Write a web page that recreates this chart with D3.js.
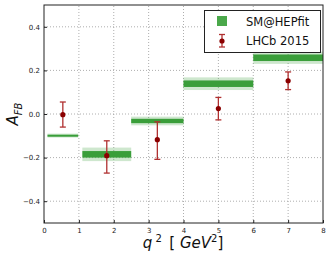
<!DOCTYPE html>
<html>
<head>
<meta charset="utf-8">
<script src="https://cdn.jsdelivr.net/npm/d3@7"></script>
<style>
  body { margin: 0; background: #fff; }
  text { font-family: "DejaVu Sans", sans-serif; }
</style>
</head>
<body>
<div id="chart"></div>
<script>
const width = 332;
const height = 260;
const margin = { top: 5, right: 9, bottom: 37, left: 44 };

// SM@HEPfit bins: low edge, high edge, central value, 1 sigma, 2 sigma
const smLow = [0.1, 1.1, 2.5, 4.0, 6.0];
const smHigh = [0.98, 2.5, 4.0, 6.0, 8.0];
const smValue = [-0.099, -0.185, -0.032, 0.139, 0.258];
const smErr1 = [0.004, 0.015, 0.01, 0.015, 0.015];
const smErr2 = [0.009, 0.031, 0.02, 0.029, 0.028];

// LHCb 2015 points
const lhcbX = [0.54, 1.8, 3.25, 5.0, 7.0];
const lhcbY = [-0.003, -0.191, -0.118, 0.025, 0.152];
const lhcbUp = [0.058, 0.068, 0.082, 0.051, 0.041];
const lhcbDown = [0.057, 0.080, 0.090, 0.052, 0.040];

const xTicks = [0, 1, 2, 3, 4, 5, 6, 7, 8];
const yTicks = [-0.4, -0.2, 0.0, 0.2, 0.4];

const svg = d3.select("#chart").append("svg")
  .attr("width", width)
  .attr("height", height);

const x = d3.scaleLinear().domain([0, 8]).range([margin.left, width - margin.right]);
const y = d3.scaleLinear().domain([-0.5, 0.5]).range([height - margin.bottom, margin.top]);

// dotted grid
svg.append("g").selectAll("line.gx")
  .data(xTicks.slice(1, -1))
  .join("line")
    .attr("x1", d => x(d)).attr("x2", d => x(d))
    .attr("y1", y(-0.5)).attr("y2", y(0.5))
    .attr("stroke", "#999").attr("stroke-width", 0.8)
    .attr("stroke-dasharray", "1,2");

svg.append("g").selectAll("line.gy")
  .data(yTicks)
  .join("line")
    .attr("x1", x(0)).attr("x2", x(8))
    .attr("y1", d => y(d)).attr("y2", d => y(d))
    .attr("stroke", "#999").attr("stroke-width", 0.8)
    .attr("stroke-dasharray", "1,2");

// SM bands
const sm = smLow.map((d, i) => ({ lo: d, hi: smHigh[i], v: smValue[i], e1: smErr1[i], e2: smErr2[i] }));

svg.append("g").selectAll("rect")
  .data(sm)
  .join("rect")
    .attr("x", d => x(d.lo))
    .attr("width", d => x(d.hi) - x(d.lo))
    .attr("y", d => y(d.v + d.e2))
    .attr("height", d => y(d.v - d.e2) - y(d.v + d.e2))
    .attr("fill", "#3a9e3a").attr("fill-opacity", 0.25);

svg.append("g").selectAll("rect")
  .data(sm)
  .join("rect")
    .attr("x", d => x(d.lo))
    .attr("width", d => x(d.hi) - x(d.lo))
    .attr("y", d => y(d.v + d.e1))
    .attr("height", d => Math.max(2, y(d.v - d.e1) - y(d.v + d.e1)))
    .attr("fill", "#3a9e3a");

// LHCb points with error bars
const pts = lhcbX.map((d, i) => ({ x: d, y: lhcbY[i], up: lhcbUp[i], dn: lhcbDown[i] }));
const errColor = "#b03030";
const pg = svg.append("g").selectAll("g")
  .data(pts)
  .join("g");

pg.append("line")
  .attr("x1", d => x(d.x)).attr("x2", d => x(d.x))
  .attr("y1", d => y(d.y + d.up)).attr("y2", d => y(d.y - d.dn))
  .attr("stroke", errColor).attr("stroke-width", 1.3);
pg.append("line")
  .attr("x1", d => x(d.x) - 3).attr("x2", d => x(d.x) + 3)
  .attr("y1", d => y(d.y + d.up)).attr("y2", d => y(d.y + d.up))
  .attr("stroke", errColor).attr("stroke-width", 1.3);
pg.append("line")
  .attr("x1", d => x(d.x) - 3).attr("x2", d => x(d.x) + 3)
  .attr("y1", d => y(d.y - d.dn)).attr("y2", d => y(d.y - d.dn))
  .attr("stroke", errColor).attr("stroke-width", 1.3);
pg.append("circle")
  .attr("cx", d => x(d.x)).attr("cy", d => y(d.y))
  .attr("r", 2.6)
  .attr("fill", "#8b0000");

// axes with inward ticks
const xAxis = svg.append("g")
  .attr("transform", `translate(0,${y(-0.5)})`)
  .call(d3.axisBottom(x).tickValues(xTicks).tickSizeInner(-3).tickSizeOuter(0).tickPadding(5).tickFormat(d3.format("d")));
const yAxis = svg.append("g")
  .attr("transform", `translate(${x(0)},0)`)
  .call(d3.axisLeft(y).tickValues(yTicks).tickSizeInner(-3).tickSizeOuter(0).tickPadding(4).tickFormat(d => d3.format(".1f")(d).replace("-", "\u2212")));
[xAxis, yAxis].forEach(a => {
  a.select(".domain").remove();
  a.selectAll("text").attr("font-size", 7).attr("fill", "#222").attr("font-family", "DejaVu Sans, sans-serif");
  a.selectAll("line").attr("stroke", "#222");
});

// frame
svg.append("rect")
  .attr("x", x(0)).attr("y", y(0.5))
  .attr("width", x(8) - x(0)).attr("height", y(-0.5) - y(0.5))
  .attr("fill", "none").attr("stroke", "#222").attr("stroke-width", 1);

// legend
const lg = svg.append("g");
lg.append("rect")
  .attr("x", 204.5).attr("y", 10.5)
  .attr("width", 116).attr("height", 42)
  .attr("fill", "#fff").attr("stroke", "#222").attr("stroke-width", 1);
lg.append("rect")
  .attr("x", 217).attr("y", 16).attr("width", 10).attr("height", 10)
  .attr("fill", "#4aa84a");
lg.append("text")
  .attr("x", 246).attr("y", 25.5)
  .attr("font-size", 11.5).attr("fill", "#111")
  .text("SM@HEPfit");
lg.append("line")
  .attr("x1", 222).attr("x2", 222).attr("y1", 34.5).attr("y2", 47)
  .attr("stroke", errColor).attr("stroke-width", 1.3);
lg.append("line")
  .attr("x1", 219).attr("x2", 225).attr("y1", 34.5).attr("y2", 34.5)
  .attr("stroke", errColor).attr("stroke-width", 1.3);
lg.append("line")
  .attr("x1", 219).attr("x2", 225).attr("y1", 47).attr("y2", 47)
  .attr("stroke", errColor).attr("stroke-width", 1.3);
lg.append("circle")
  .attr("cx", 222).attr("cy", 41).attr("r", 2.6).attr("fill", "#8b0000");
lg.append("text")
  .attr("x", 246).attr("y", 45)
  .attr("font-size", 11.5).attr("fill", "#111")
  .text("LHCb 2015");

// axis titles
const yt = svg.append("text")
  .attr("transform", `translate(18,${y(0)}) rotate(-90)`)
  .attr("text-anchor", "middle")
  .attr("font-family", "Liberation Serif, serif")
  .attr("font-style", "italic")
  .attr("font-size", 15)
  .attr("fill", "#111");
yt.append("tspan").text("A");
yt.append("tspan").attr("font-size", 10).attr("dy", 4).text("FB");

const xt = svg.append("text")
  .attr("x", 183).attr("y", 248)
  .attr("text-anchor", "middle")
  .attr("font-family", "Liberation Serif, serif")
  .attr("font-size", 15)
  .attr("fill", "#111");
xt.append("tspan").attr("font-style", "italic").text("q");
xt.append("tspan").attr("font-size", 10).attr("dy", -6).text(" 2");
xt.append("tspan").attr("dy", 6).text("\u2002[ ");
xt.append("tspan").attr("font-style", "italic").text("GeV");
xt.append("tspan").attr("font-size", 10).attr("dy", -6).text("2");
xt.append("tspan").attr("dy", 6).text("]");
</script>
</body>
</html>
